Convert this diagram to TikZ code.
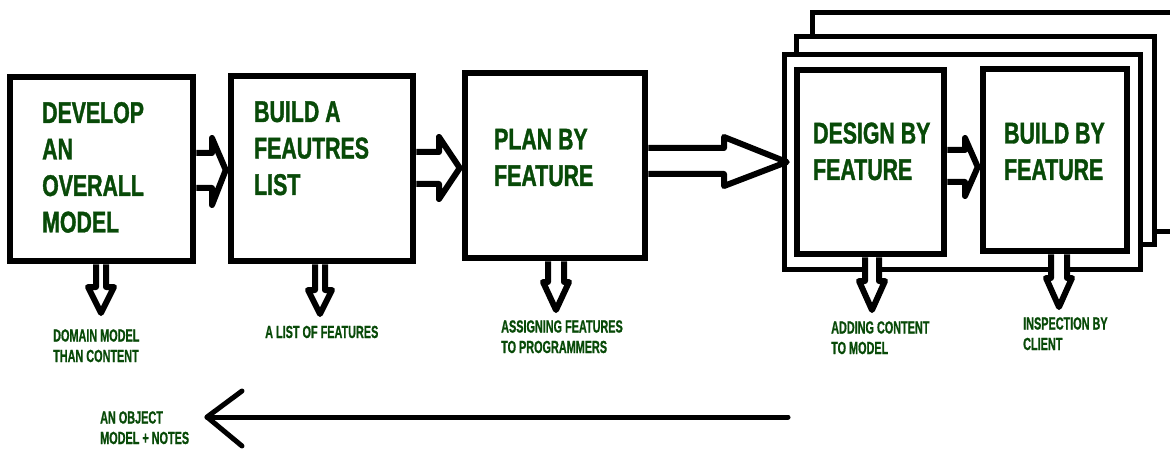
\documentclass[tikz,border=0pt]{standalone}
\usepackage{fontspec}
\usetikzlibrary{calc}
\newfontfamily\bigf[FakeStretch=0.71,FakeBold=1.2]{Liberation Sans}
\newfontfamily\smallf[FakeStretch=0.62,FakeBold=0.8]{Liberation Sans}
\definecolor{dgreen}{RGB}{8,74,8}
\begin{document}
\begin{tikzpicture}[x=1pt,y=-1pt,
  box/.style={draw=black,line width=6.5pt,fill=white,outer sep=3.25pt,inner sep=0pt,minimum width=#1},
  stackrect/.style={draw=black,line width=5pt,fill=white,inner sep=0pt,outer sep=2.5pt},
  blockarrow/.style={draw=black,fill=white,line width=6pt,line join=round},
  ttl/.style={font=\bigf\bfseries\fontsize{30}{36.5}\selectfont,text=dgreen,align=left,anchor=base west,inner sep=0pt},
  lbl/.style={font=\smallf\bfseries\fontsize{17.5}{20.5}\selectfont,text=dgreen,align=left,anchor=base west,inner sep=0pt}]
\useasboundingbox (0,0) rectangle (1170,449);
\clip (0,0) rectangle (1170,449);
\fill[white] (0,0) rectangle (1170,449);

% main boxes
\node[box=183pt,minimum height=184pt] (b1) at (101.5,169) {};
\node[box=182pt,minimum height=185pt] (b2) at (322,168.5) {};
\node[box=180pt,minimum height=185pt] (b3) at (555,165.5) {};

% stacked frames
\node[stackrect,minimum width=373pt,minimum height=219pt] (s3) at (998.5,122.5) {};
\node[stackrect,minimum width=358pt,minimum height=208pt] (s2) at (975,141) {};
\node[stackrect,minimum width=356pt,minimum height=214pt] (s1) at (962,162) {};
\node[box=147pt,minimum height=184pt] (b4) at (870.5,162) {};
\node[box=144pt,minimum height=182pt] (b5) at (1055,160) {};

% titles (anchor = baseline of the last line)
\node[ttl] (t1) at (42,232.5) {DEVELOP\\AN\\OVERALL\\MODEL};
\node[ttl] (t2) at (254,195) {BUILD A\\FEAUTRES\\LIST};
\node[ttl] (t3) at (494,186) {PLAN BY\\FEATURE};
\node[ttl] (t4) at (813,180) {DESIGN BY\\FEATURE};
\node[ttl] (t5) at (1004,180) {BUILD BY\\FEATURE};

% horizontal block arrows
\draw[blockarrow] (b1.east |- 0,153) -- (212,153) -- (212,138) -- ($(b2.west |- 0,170)+(-2,0)$)
  -- (212,205) -- (212,188) -- (b1.east |- 0,188);
\draw[blockarrow] (b2.east |- 0,152) -- (439,152) -- (439,137) -- ($(b3.west |- 0,168)+(-2,0)$)
  -- (439,199) -- (439,184) -- (b2.east |- 0,184);
\draw[blockarrow] (b3.east |- 0,148) -- (724,148) -- (724,137) -- ($(b4.west |- 0,162)+(-7,0)$)
  -- (724,186) -- (724,174) -- (b3.east |- 0,174);
\draw[blockarrow] (b4.east |- 0,150) -- (965,150) -- (965,138) -- ($(b5.west |- 0,167)+(-2,0)$)
  -- (965,196) -- (965,182) -- (b4.east |- 0,182);

% downward block arrows
\draw[blockarrow] (96,0 |- b1.south) -- (96,287) -- (88,287) -- (101,313) -- (114,287) -- (106,287) -- (106,0 |- b1.south);
\draw[blockarrow] (315,0 |- b2.south) -- (315,290) -- (308,290) -- (320,314) -- (332,290) -- (325,290) -- (325,0 |- b2.south);
\draw[blockarrow] (548,0 |- b3.south) -- (548,282) -- (543,282) -- (556,310) -- (569,282) -- (564,282) -- (564,0 |- b3.south);
\draw[blockarrow] (865,0 |- b4.south) -- (865,281) -- (859,281) -- (872,310) -- (885,281) -- (879,281) -- (879,0 |- b4.south);
\draw[blockarrow] (1051,0 |- b5.south) -- (1051,278) -- (1046,278) -- (1059,307) -- (1072,278) -- (1067,278) -- (1067,0 |- b5.south);

% labels (anchor = baseline of the last line)
\node[lbl] (l1) at (53,362) {DOMAIN MODEL\\THAN CONTENT};
\node[lbl] (l2) at (265,338) {A LIST OF FEATURES};
\node[lbl] (l3) at (501,353) {ASSIGNING FEATURES\\TO PROGRAMMERS};
\node[lbl] (l4) at (831,354) {ADDING CONTENT\\TO MODEL};
\node[lbl] (l5) at (1023,350) {INSPECTION BY\\CLIENT};
\node[lbl] (l6) at (100,444) {AN OBJECT\\MODEL + NOTES};

% long return arrow
\coordinate (oe) at (788,417);
\coordinate (ot) at (207,417);
\draw[line width=5pt,line cap=round] (oe) -- (ot);
\draw[line width=5pt,line cap=round,line join=round] ($(ot)+(35,-26)$) -- (ot) -- ($(ot)+(35,29)$);
\end{tikzpicture}
\end{document}
